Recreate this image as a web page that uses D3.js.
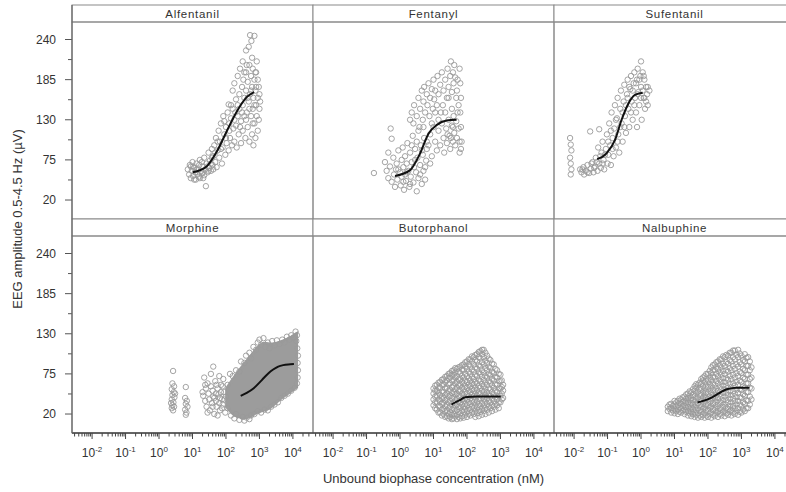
<!DOCTYPE html>
<html><head><meta charset="utf-8">
<script src="https://cdn.jsdelivr.net/npm/d3@7"></script>
<style>body{margin:0;background:#fff}svg{display:block;font-family:"Liberation Sans",Arial,sans-serif}</style>
</head><body><svg id="c" width="786" height="492"></svg>
<script>
// ---------- DATA (x = log10 unbound biophase concentration in nM, y = EEG amplitude in µV) ----------
const panelNames = ["Alfentanil","Fentanyl","Sufentanil","Morphine","Butorphanol","Nalbuphine"];
const yTicks = [20,75,130,185,240];
const yMinorTicks = [47.5,102.5,157.5,212.5];
const xTickExponents = [-2,-1,0,1,2,3,4];
const xTitle = "Unbound biophase concentration (nM)";
const yTitle = "EEG amplitude 0.5-4.5 Hz (\u00B5V)";

const alfentanilPoints = [[0.86,62],[0.9,55],[0.92,68],[0.95,50],[0.98,60],[1.0,72],[1.02,53],[1.05,64],[1.08,58],[1.1,48],[1.12,70],[1.15,55],[1.18,62],[1.2,52],[1.22,75],[1.25,60],[1.28,56],[1.3,66],[1.32,50],[1.35,78],[1.38,62],[1.4,39],[1.42,70],[1.45,58],[1.48,85],[1.5,64],[1.52,74],[1.55,60],[1.58,90],[1.6,68],
[1.62,80],[1.65,95],[1.68,72],[1.7,105],[1.72,65],[1.75,88],[1.78,115],[1.8,78],[1.82,100],[1.85,125],[1.88,70],[1.9,92],[1.92,135],[1.95,110],[1.98,82],[2.0,120],[2.02,98],[2.05,140],[2.08,151],[2.08,88],[2.1,125],[2.12,105],[2.15,132],[2.18,95],[2.2,145],[2.2,170],
[2.22,118],[2.25,180],[2.25,100],[2.28,140],[2.3,158],[2.3,122],[2.32,92],[2.35,190],[2.35,135],[2.38,110],[2.4,165],[2.4,145],[2.42,200],[2.45,128],[2.45,98],[2.48,175],[2.5,210],[2.5,150],[2.5,115],[2.52,185],[2.55,135],[2.55,160],[2.58,105],[2.6,195],[2.6,225],[2.6,170],[2.62,140],[2.65,120],[2.65,182],[2.68,230],[2.68,155],[2.7,100],[2.7,205],[2.72,246],[2.72,165],[2.75,135],[2.75,190],[2.76,238],[2.78,110],[2.78,175],[2.8,200],[2.8,145],[2.82,95],[2.82,160],[2.85,245],[2.85,185],[2.85,125],[2.88,170],[2.88,105],[2.9,150],[2.9,195],[2.92,135],[2.95,160],[2.95,115],[2.98,175],[3.0,145],[3.02,155],
[0.95,66],[1.05,48],[1.12,62],[1.2,68],[1.28,72],[1.35,54],[1.45,66],[1.55,70],[1.62,62],[1.68,85],[1.75,100],[1.85,90],[1.95,128],[2.0,105],[2.1,115],[2.15,150],[2.25,130],[2.35,150],[2.42,120],[2.48,140],[2.55,195],[2.6,130],[2.65,160],[2.7,145],[2.75,170],[2.8,125],[2.85,150],[2.9,175],[2.95,185],[2.98,130],[3.0,165],[2.92,210],[2.88,195],[2.78,215],[2.62,205],[1.58,78],[1.48,60],[1.3,58],[1.22,50],[1.02,66]];
const alfentanilCurve = [[1.01,58],[1.42,66],[1.72,86],[2.02,114],[2.32,141],[2.62,161],[2.84,168]];

const fentanylPoints = [[-0.78,57],[-0.45,72],[-0.4,60],[-0.35,50],[-0.3,66],[-0.28,118],[-0.25,104],[-0.25,45],[-0.2,78],[-0.18,55],[-0.15,38],[-0.12,62],[-0.1,70],[-0.08,48],[-0.05,88],[0.0,58],[0.02,40],[0.05,75],[0.05,52],[0.08,92],[0.1,65],[0.12,34],[0.15,80],[0.15,55],[0.18,46],[0.2,70],[0.22,98],[0.25,60],[0.28,38],[0.3,85],[0.32,52],[0.35,72],[0.38,108],[0.4,44],[0.42,65],[0.45,90],[0.48,58],[0.5,32],[0.52,78],[0.55,115],[0.55,50],[0.6,68],[0.62,95],[0.65,42],[0.68,82],[0.7,60],[0.72,105],[0.75,48],[0.78,74],[0.8,90],
[0.3,130],[0.35,140],[0.4,125],[0.42,150],[0.5,135],[0.55,160],[0.58,120],[0.6,145],[0.65,170],[0.68,130],[0.7,155],[0.72,175],[0.75,140],[0.8,165],[0.82,150],[0.85,180],[0.88,135],[0.9,160],[0.95,172],[0.98,145],[1.0,185],[1.02,158],[1.05,170],[1.1,150],[1.12,190],[1.15,165],[1.2,178],[1.22,140],[1.25,195],[1.3,170],[1.35,185],[1.4,160],[1.42,200],[1.45,175],[1.5,190],[1.52,210],[1.55,168],[1.58,195],[1.6,180],[1.62,205],[1.65,188],
[0.85,95],[0.9,110],[0.95,80],[1.0,120],[1.05,100],[1.1,88],[1.15,115],[1.2,95],[1.25,125],[1.3,105],[1.32,85],[1.38,118],[1.4,98],[1.45,130],[1.48,108],[1.5,90],[1.55,122],[1.58,100],[1.6,135],[1.62,112],[1.65,95],[1.68,128],[1.7,105],[1.72,140],[1.75,118],[1.78,100],[1.82,120],[1.84,100],[1.8,140],
[-0.35,85],[-0.05,62],[0.1,45],[0.2,58],[0.3,42],[0.35,95],[0.45,75],[0.5,100],[0.6,55],[0.65,88],[0.7,120],[0.75,65],[0.8,100],[0.9,70],[0.95,125],[1.05,140],[1.15,130],[1.28,150],[1.35,140],[1.45,160],[1.55,145],[1.7,170],[1.75,150],[1.78,200],[1.72,185],[1.68,160],[1.58,120],[1.52,105],[1.42,110],[1.82,160],[1.8,180],[1.82,90],[1.78,85]];
const fentanylCurve = [[-0.15,53],[0.3,61],[0.6,84],[0.85,111],[1.1,123],[1.39,129],[1.69,130]];

const sufentanilPoints = [[-2.12,105],[-2.1,96],[-2.08,88],[-2.12,78],[-2.1,70],[-2.08,62],[-2.1,55],
[-1.82,62],[-1.78,58],[-1.72,65],[-1.7,55],[-1.65,60],[-1.6,68],[-1.55,57],[-1.52,114],[-1.5,63],[-1.45,72],[-1.42,58],[-1.38,66],[-1.35,78],[-1.3,60],[-1.28,92],[-1.25,117],[-1.25,70],[-1.2,64],[-1.18,85],[-1.15,100],[-1.12,75],[-1.1,62],[-1.05,90],[-1.02,110],[-1.0,70],[-0.98,82],[-0.95,125],[-0.92,95],[-0.9,68],[-0.88,140],[-0.85,105],[-0.82,80],[-0.8,118],[-0.78,150],[-0.75,92],[-0.72,132],[-0.7,160],[-0.68,110],[-0.65,85],[-0.62,145],[-0.6,170],[-0.58,125],[-0.55,100],[-0.52,155],[-0.5,178],[-0.48,135],[-0.45,112],[-0.42,165],[-0.4,185],[-0.38,145],[-0.35,120],[-0.32,172],[-0.3,190],[-0.28,155],[-0.25,130],[-0.22,180],[-0.2,195],[-0.18,160],[-0.15,140],[-0.12,185],[-0.1,200],[-0.08,168],[-0.05,150],[-0.02,190],[0.0,210],[0.0,175],[0.02,130],[0.05,195],[0.08,160],[0.1,185],[0.12,145],[0.15,175],[0.18,165],[0.2,150],[0.25,170],
[-1.75,62],[-1.6,58],[-1.48,70],[-1.4,64],[-1.32,72],[-1.22,80],[-1.15,70],[-1.08,82],[-0.98,100],[-0.9,115],[-0.85,90],[-0.75,130],[-0.7,100],[-0.62,120],[-0.55,140],[-0.5,120],[-0.45,150],[-0.4,160],[-0.35,175],[-0.3,140],[-0.25,170],[-0.2,150],[-0.15,180],[-0.1,165],[-0.05,185],[0.0,160],[0.05,170],[0.1,160],[0.15,155],[0.2,175],[0.08,190],[-0.12,120]];
const sufentanilCurve = [[-1.31,76],[-1.03,84],[-0.78,102],[-0.58,130],[-0.38,152],[-0.18,164],[0.05,167]];

const morphinePoints = [[0.42,79],[0.4,62],[0.45,58],[0.38,54],[0.44,50],[0.4,46],[0.46,43],[0.38,40],[0.43,36],[0.4,32],[0.45,30],[0.38,28],[0.42,25],[0.48,48],[0.36,35],
[0.8,57],[0.78,42],[0.83,38],[0.8,34],[0.85,30],[0.78,26],[0.82,22],[0.8,19],
[1.62,85],[1.35,70],[1.3,50],[1.32,45],[1.38,38],[1.4,55],[1.42,30],[1.45,62],[1.48,48],[1.5,40],[1.52,25],[1.55,58],[1.58,35],[1.6,52],[1.62,44],[1.65,20],[1.68,65],[1.7,38],[1.72,30],[1.75,55],[1.78,47],[1.8,72],[1.82,25],[1.85,60],[1.88,40],[1.9,33],[1.92,68],[1.95,50],[1.98,22],[2.0,44],[1.55,75],[1.45,22],[1.75,18],[1.38,60],
[1.6,30],[1.7,48],[1.8,35],[1.85,50],[1.9,58],[1.95,40],[1.82,42],[1.65,42],[1.72,60],[1.88,28],
[2.05,60],[2.12,75],[2.2,72],[2.3,80],[2.4,78],[2.45,92],[2.55,90],[2.6,100],[2.7,104],[2.75,96],[2.82,112],[2.9,108],[2.95,118],[3.0,122],[3.05,115],[3.12,124],[3.18,112],[3.25,118],[3.3,110],[3.38,120],[3.45,114],[3.52,121],[3.6,116],[3.68,122],[3.75,118],[3.82,126],[3.9,122],[3.95,128],[4.02,125],[4.08,133],[4.12,128],[4.1,120],
[2.05,28],[2.15,18],[2.25,14],[2.3,20],[2.4,12],[2.5,16],[2.55,11],[2.62,15],[2.7,13],[2.75,18],[2.85,20],[2.95,24],[3.05,22],[3.15,26],[3.25,25],[3.35,30],[3.45,33],[3.55,36],[3.65,42],[3.75,45],[3.85,48],[3.95,52],[4.05,56],[4.12,62],
[4.14,70],[4.15,80],[4.14,90],[4.15,100],[4.13,110]];
// dense core of the morphine cloud (thousands of overlapping circles)
const morphineCoreLog  = [2.02,2.22,2.52,2.72,2.92,3.12,3.32,3.52,3.71,3.91,4.11];
const morphineCoreLow  = [30,18,14,16,23,25,28,37,44,50,57];
const morphineCoreHigh = [55,69,87,98,110,119,115,117,120,124,130];
const morphineCurve = [[2.44,45],[2.62,49],[2.82,55],[3.02,64],[3.12,69],[3.27,76],[3.41,81],[3.56,85],[3.71,87],[3.86,88],[4.03,88.5]];

const butorphanolColumns = [[1.0,[32,40,48,55]],[1.1,[26,36,45,52,60]],[1.2,[22,30,38,46,56,64]],[1.3,[20,27,35,42,50,60,68]],[1.4,[17,24,32,40,48,56,66,72]],[1.5,[16,22,30,38,45,53,62,70,76]],[1.6,[14,20,28,35,43,50,58,66,74,80]],[1.7,[13,19,26,33,41,48,56,64,72,82]],[1.8,[14,21,29,36,44,52,60,68,76,85]],[1.9,[15,23,30,38,46,54,62,70,80,88]],[2.0,[16,24,32,40,48,56,64,72,82,92]],[2.1,[18,26,34,42,50,58,66,75,85,95]],[2.2,[20,28,36,44,52,60,68,78,88,98]],[2.3,[21,29,37,45,53,62,72,82,92,102]],[2.4,[23,31,40,48,56,65,75,85,96,106]],[2.5,[24,32,41,50,58,67,77,88,98,108]],[2.6,[26,34,42,50,60,70,80,90,100]],[2.7,[28,36,45,54,63,73,83,94]],[2.8,[30,38,47,56,66,76,88]],[2.9,[32,40,50,60,70,80]],[3.0,[36,45,55,65,74]],[3.08,[42,52,60]],
[1.05,[28,36,44,52,59]],[1.15,[22,31,40,49,56,63]],[1.25,[18,26,34,42,51,60,67]],[1.35,[16,24,31,39,46,55,64,71]],[1.45,[14,20,28,36,44,52,61,69,75]],[1.55,[13,19,26,34,42,49,57,66,74,79]],[1.65,[17,24,32,39,47,54,62,70,77,83]],[1.75,[16,23,30,37,45,52,60,68,78,84]],[1.85,[17,25,33,40,48,56,64,72,81,87]],[1.95,[19,27,34,42,50,58,66,75,85,91]],[2.05,[20,28,36,44,52,60,69,78,88,95]],[2.15,[22,30,38,46,54,62,71,81,92,99]],[2.25,[16,24,32,40,48,56,64,74,84,94,101]],[2.35,[17,25,33,41,49,58,67,77,87,98,105]],[2.45,[19,27,35,44,52,61,71,80,91,102,108]],[2.55,[20,28,37,46,54,63,72,83,93,104]],[2.65,[22,30,38,46,55,65,75,85,96]],[2.75,[24,32,41,50,59,68,78,89]],[2.85,[26,34,43,52,61,71,82]],[2.95,[28,36,45,55,65,75]],[3.04,[40,48,57,66]]];
const butorphanolCurve = [[1.54,33],[1.69,37],[1.79,39],[1.94,43],[2.29,44],[2.69,44],[3.01,44]];

const nalbuphineColumns = [[0.8,[24,30]],[0.9,[22,28,34]],[1.0,[21,27,33,38]],[1.1,[20,26,32,38]],[1.2,[22,28,34,40]],[1.3,[20,26,32,38,44]],[1.4,[18,24,30,36,42,48]],[1.5,[17,23,29,35,42,50]],[1.6,[16,22,29,36,44,52,58]],[1.7,[15,21,28,35,43,51,60]],[1.8,[16,23,30,38,46,54,62,68]],[1.9,[15,22,30,38,46,55,64,72]],[2.0,[16,24,32,40,48,57,66,75]],[2.1,[15,23,31,40,49,58,67,76,84]],[2.2,[17,25,33,42,51,60,70,80,88]],[2.3,[16,24,33,42,52,62,72,82,92]],[2.4,[18,26,35,44,54,64,74,84,95]],[2.5,[17,25,34,44,54,64,75,86,98]],[2.6,[19,27,36,46,56,67,78,89,100]],[2.7,[18,26,36,46,57,68,80,92,104]],[2.8,[20,28,38,48,59,70,82,95,107]],[2.9,[19,28,38,49,60,72,85,98,108]],[3.0,[22,31,42,53,64,76,88,100]],[3.1,[24,34,45,56,68,80,92,102]],[3.2,[28,38,50,62,74,86,98]],[3.3,[40,55,70,84]],
[0.85,[27,33]],[0.95,[25,31]],[1.05,[24,30,36]],[1.15,[23,29,35,41]],[1.25,[25,31,37,43]],[1.35,[23,29,35,41,47]],[1.45,[21,27,33,39,45,51]],[1.55,[20,26,33,39,46,54]],[1.65,[19,25,32,40,48,56,61]],[1.75,[18,25,32,39,47,55,63]],[1.85,[19,27,34,42,50,58,66,70]],[1.95,[18,26,34,42,50,59,68,75]],[2.05,[20,28,36,44,52,61,70,79]],[2.15,[19,27,35,44,53,62,71,80,87]],[2.25,[21,29,37,46,55,65,75,84,91]],[2.35,[20,28,37,47,57,67,77,87,95]],[2.45,[22,30,39,49,59,69,79,89,99]],[2.55,[21,29,39,49,59,69,80,91,101]],[2.65,[23,31,41,51,61,72,83,94,104]],[2.75,[22,31,41,51,62,74,86,98,107]],[2.85,[24,33,43,53,64,76,88,101]],[2.95,[23,33,43,54,66,78,91,103]],[3.05,[26,36,47,58,70,82,94]],[3.15,[28,39,50,62,74,86,97]],[3.25,[33,44,56,68,80,92]]];
const nalbuphineCurve = [[1.69,36],[2.06,41.5],[2.31,48],[2.56,54],[2.86,56],[3.24,56]];

// ---------- BUILD ----------
const fromColumns = cols => cols.flatMap(([l, vals]) => vals.map(v => [l, v]));
const panels = [
  {name: panelNames[0], points: alfentanilPoints, curve: alfentanilCurve},
  {name: panelNames[1], points: fentanylPoints, curve: fentanylCurve},
  {name: panelNames[2], points: sufentanilPoints, curve: sufentanilCurve},
  {name: panelNames[3], points: morphinePoints, curve: morphineCurve,
   core: morphineCoreLog.map((l,i)=>({l, lo: morphineCoreLow[i], hi: morphineCoreHigh[i]}))},
  {name: panelNames[4], points: fromColumns(butorphanolColumns), curve: butorphanolCurve},
  {name: panelNames[5], points: fromColumns(nalbuphineColumns), curve: nalbuphineCurve}
];

const svg = d3.select("#c");
const L = 72, colW = 241, T = 5, stripH = 17, plotH = 197;
const rowH = stripH + plotH;
const bottom = T + 2*rowH;
const gridCol = "#8a8a8a", ptCol = "#9a9a9a", txtCol = "#333";

const defs = svg.append("defs");

panels.forEach((p, i) => {
  const c = i % 3, r = Math.floor(i / 3);
  const x0 = L + c*colW, sTop = T + r*rowH, pTop = sTop + stripH;
  const xs = d3.scaleLog().domain([Math.pow(10,-2.6), Math.pow(10,4.6)]).range([x0, x0 + colW]);
  const ys = d3.scaleLinear().domain([-6, 264]).range([pTop + plotH, pTop]);
  const id = "clip" + i;
  defs.append("clipPath").attr("id", id).append("rect")
    .attr("x", x0).attr("y", pTop).attr("width", colW).attr("height", plotH);
  const g = svg.append("g").attr("clip-path", `url(#${id})`);

  if (p.core) {
    g.append("path").datum(p.core)
      .attr("d", d3.area().x(d => xs(Math.pow(10, d.l))).y0(d => ys(d.lo)).y1(d => ys(d.hi)).curve(d3.curveBasis))
      .attr("fill", "#9c9c9c").attr("stroke", "#9c9c9c").attr("stroke-width", 3);
  }
  g.selectAll("circle.pt").data(p.points).join("circle").attr("class","pt")
    .attr("cx", d => xs(Math.pow(10, d[0]))).attr("cy", d => ys(d[1])).attr("r", 2.7)
    .attr("fill", "none").attr("stroke", ptCol).attr("stroke-width", 0.9);
  g.append("path").datum(p.curve)
    .attr("d", d3.line().x(d => xs(Math.pow(10, d[0]))).y(d => ys(d[1])).curve(d3.curveMonotoneX))
    .attr("fill", "none").attr("stroke", "#111").attr("stroke-width", 2);

  // strip
  svg.append("rect").attr("x", x0).attr("y", sTop).attr("width", colW).attr("height", stripH)
    .attr("fill", "#fff").attr("stroke", gridCol).attr("stroke-width", 1);
  svg.append("text").attr("x", x0 + colW/2).attr("y", sTop + 12.5).attr("text-anchor", "middle")
    .attr("font-size", 11.5).attr("letter-spacing", 0.7).attr("fill", txtCol).text(p.name);
  // panel border
  svg.append("rect").attr("x", x0).attr("y", pTop).attr("width", colW).attr("height", plotH)
    .attr("fill", "none").attr("stroke", gridCol).attr("stroke-width", 1);

  // left axis
  if (c === 0) {
    yTicks.forEach(v => {
      svg.append("line").attr("x1", L - 7).attr("x2", L).attr("y1", ys(v)).attr("y2", ys(v))
        .attr("stroke", "#555").attr("stroke-width", 1);
      svg.append("text").attr("x", L - 16).attr("y", ys(v) + 4).attr("text-anchor", "end")
        .attr("font-size", 12).attr("fill", txtCol).text(v);
    });
    yMinorTicks.forEach(v => {
      svg.append("line").attr("x1", L - 4).attr("x2", L).attr("y1", ys(v)).attr("y2", ys(v))
        .attr("stroke", "#555").attr("stroke-width", 1);
    });
  }
  // bottom axis
  if (r === 1) {
    xs.ticks().forEach(t => {
      const e = Math.log10(t), major = Math.abs(e - Math.round(e)) < 1e-9;
      svg.append("line").attr("x1", xs(t)).attr("x2", xs(t)).attr("y1", bottom).attr("y2", bottom + (major ? 6 : 3.5))
        .attr("stroke", "#444").attr("stroke-width", 1);
    });
    xTickExponents.forEach(e => {
      const t = svg.append("text").attr("x", xs(Math.pow(10, e))).attr("y", bottom + 24)
        .attr("text-anchor", "middle").attr("font-size", 12).attr("fill", txtCol);
      t.append("tspan").text("10");
      t.append("tspan").attr("dy", -5).attr("font-size", 8).text(String(e));
    });
  }
});

// outer left and bottom axis lines
svg.append("line").attr("x1", L).attr("x2", L + 3*colW).attr("y1", bottom).attr("y2", bottom)
  .attr("stroke", "#444").attr("stroke-width", 1.3);
svg.append("line").attr("x1", L).attr("x2", L).attr("y1", T).attr("y2", bottom)
  .attr("stroke", "#666").attr("stroke-width", 1.2);

svg.append("text").attr("x", L + 1.5*colW).attr("y", 483).attr("text-anchor", "middle")
  .attr("font-size", 13).attr("fill", txtCol).text(xTitle);
svg.append("text").attr("transform", `translate(22,${(T + bottom)/2}) rotate(-90)`).attr("text-anchor", "middle")
  .attr("font-size", 13).attr("fill", txtCol).text(yTitle);
</script></body></html>
